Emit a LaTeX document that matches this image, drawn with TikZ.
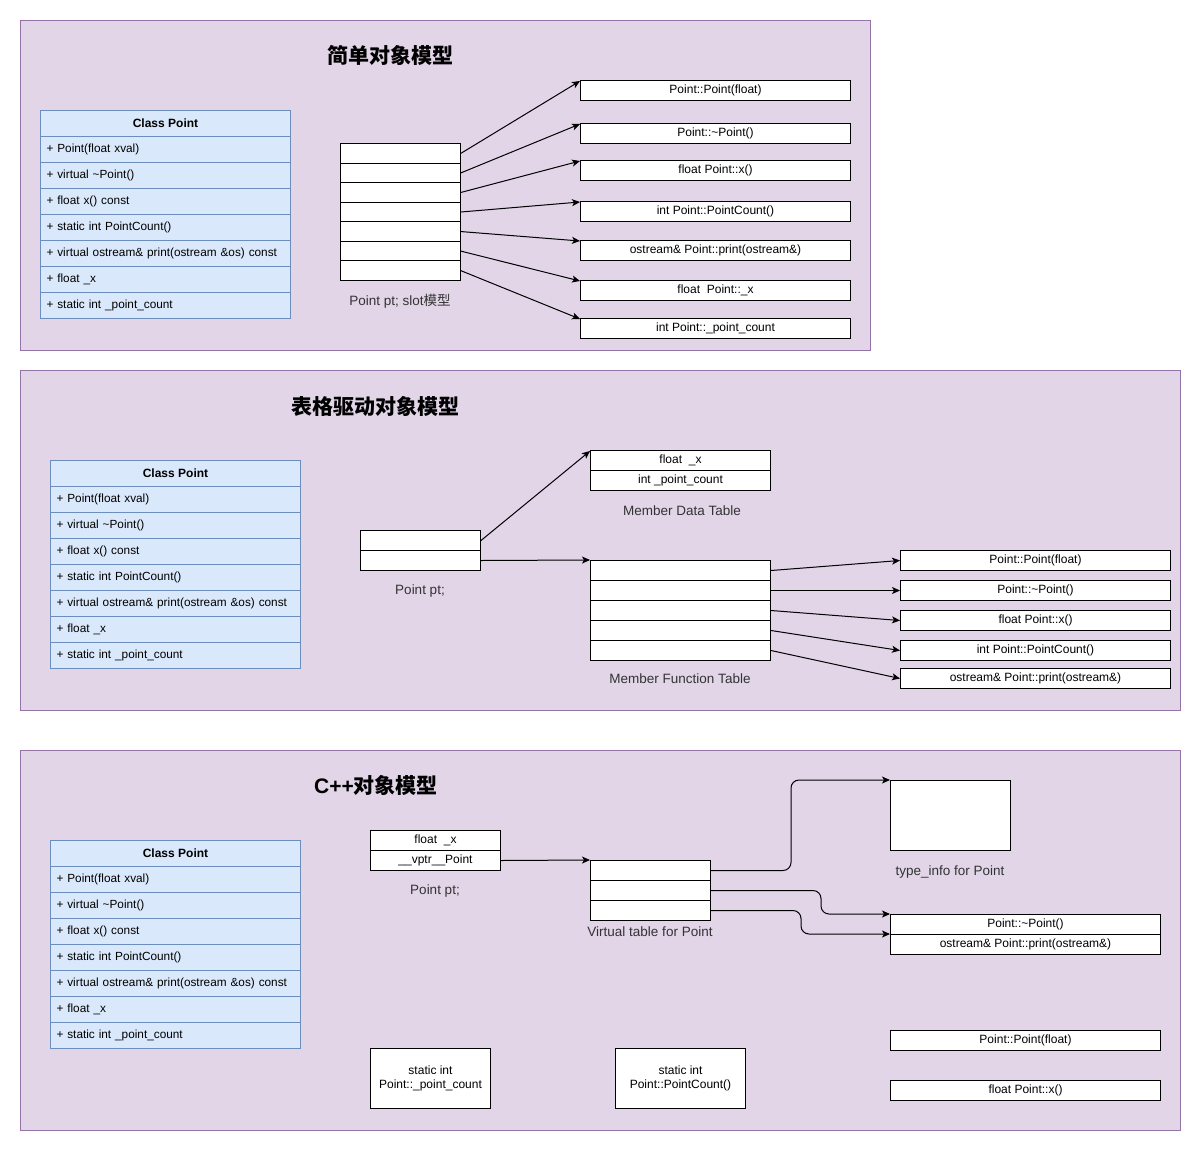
\documentclass[tikz,border=0pt]{standalone}
\usepackage{fontspec}
\setmainfont{Liberation Sans}
\newfontfamily\cjk{Noto Sans CJK SC}
\usetikzlibrary{arrows.meta}
\definecolor{pfill}{HTML}{E1D5E7}
\definecolor{pline}{HTML}{9673A6}
\definecolor{cfill}{HTML}{DAE8FC}
\definecolor{cline}{HTML}{6C8EBF}
\definecolor{txt}{HTML}{333333}
\newcommand{\umlclass}[3]{%
  \node[clshead] (#1h) at (#2,#3) {Class Point};
  \foreach \txt [count=\i] in {+ Point(float xval), + virtual \textasciitilde Point(), + float x() const, + static int PointCount(), + virtual ostream\& print(ostream \&os) const, + float \_x, + static int \_point\_count}
    \node[clsrow] (#1r\i) at (#2,#3+26*\i) {\txt};
}
\begin{document}
\begin{tikzpicture}[x=1pt,y=-1pt,line width=1pt,
  panel/.style={draw=pline,fill=pfill,anchor=north west,inner sep=0pt},
  clshead/.style={draw=cline,fill=cfill,anchor=north west,minimum width=250pt,minimum height=26pt,inner sep=0pt,font=\fontsize{12}{14}\selectfont\bfseries},
  clsrow/.style={draw=cline,fill=cfill,anchor=north west,text width=238pt,inner xsep=6pt,inner ysep=0pt,minimum height=26pt,align=left,font=\fontsize{11.8}{14}\selectfont},
  cell/.style={draw=black,fill=white,anchor=north west,inner sep=0pt,minimum height=20pt,align=center,font=\fontsize{12}{14}\selectfont},
  lbl/.style={font=\fontsize{13.5}{16}\selectfont,text=txt},
  title/.style={font=\fontsize{21}{25}\selectfont\bfseries},
  arr/.style={-{Stealth[length=8pt,width=7pt,inset=2pt]}}]
\useasboundingbox (0,0) rectangle (1201,1151);

% ---------- Panel 1 ----------
\node[panel,minimum width=850pt,minimum height=330pt] (pA) at (20,20) {};
\node[title] (tA) at (390,55) {\cjk\bfseries 简单对象模型};
\umlclass{ca}{40}{110}
\foreach \i in {1,...,7}
  \node[cell,minimum width=120pt,minimum height=19.57pt] (s\i) at (340,143+19.57*\i-19.57) {};
\node[lbl] (lA) at (400,301) {Point pt; slot{\cjk 模型}};
\foreach \yy/\txt [count=\i] in {80/Point::Point(float), 123/Point::\textasciitilde Point(), 160/float Point::x(), 201/int Point::PointCount(), 240/ostream\& Point::print(ostream\&), 280/float~~Point::\_x, 318/int Point::\_point\_count}
  \node[cell,minimum width=270pt] (t\i) at (580,\yy) {\txt};
\foreach \i in {1,...,7}
  \draw[arr] (s\i.east) -- ([yshift=-1pt]t\i.north west);

% ---------- Panel 2 ----------
\node[panel,minimum width=1160pt,minimum height=340pt] (pB) at (20,370) {};
\node[title] (tB) at (375,406) {\cjk\bfseries 表格驱动对象模型};
\umlclass{cb}{50}{460}
\node[cell,minimum width=120pt] (p1) at (360,530) {};
\node[cell,minimum width=120pt] (p2) at (360,550) {};
\node[lbl] (lB1) at (420,591) {Point pt;};
\node[cell,minimum width=180pt] (d1) at (590,450) {float~~\_x};
\node[cell,minimum width=180pt] (d2) at (590,470) {int \_point\_count};
\node[lbl] (lB2) at (682,511) {Member Data Table};
\foreach \i in {1,...,5}
  \node[cell,minimum width=180pt] (f\i) at (590,540+20*\i) {};
\node[lbl] (lB3) at (680,679) {Member Function Table};
\foreach \yy/\txt [count=\i] in {550/Point::Point(float), 580/Point::\textasciitilde Point(), 610/float Point::x(), 640/int Point::PointCount(), 668/ostream\& Point::print(ostream\&)}
  \node[cell,minimum width=270pt] (g\i) at (900,\yy) {\txt};
\draw[arr] (p1.east) -- ([yshift=-1pt]d1.north west);
\draw[arr] (p2.east) -- (f1.north west);
\foreach \i in {1,...,5}
  \draw[arr] (f\i.east) -- (g\i.west);

% ---------- Panel 3 ----------
\node[panel,minimum width=1160pt,minimum height=380pt] (pC) at (20,750) {};
\node[title] (tC) at (376,785) {C++{\cjk\bfseries 对象模型}};
\umlclass{cc}{50}{840}
\node[cell,minimum width=130pt] (q1) at (370,830) {float~~\_x};
\node[cell,minimum width=130pt] (q2) at (370,850) {\_\_vptr\_\_Point};
\node[lbl] (lC1) at (435,891) {Point pt;};
\foreach \i in {1,...,3}
  \node[cell,minimum width=120pt] (v\i) at (590,840+20*\i) {};
\node[lbl] (lC2) at (650,932) {Virtual table for Point};
\node[cell,minimum width=120pt,minimum height=70pt] (ti) at (890,780) {};
\node[lbl] (lC3) at (950,872) {type\_info for Point};
\node[cell,minimum width=270pt] (h1) at (890,914) {Point::\textasciitilde Point()};
\node[cell,minimum width=270pt] (h2) at (890,934) {ostream\& Point::print(ostream\&)};
\node[cell,minimum width=120pt,minimum height=60pt] (st1) at (370,1048) {static int\\Point::\_point\_count};
\node[cell,minimum width=130pt,minimum height=60pt] (st2) at (615,1048) {static int\\Point::PointCount()};
\node[cell,minimum width=270pt] (k1) at (890,1030) {Point::Point(float)};
\node[cell,minimum width=270pt] (k2) at (890,1080) {float Point::x()};
\draw[arr] (q2.east) -- (v1.north west);
\draw[arr,rounded corners=8pt] (v1.east) -- ++(80,0) |- (ti.north west);
\draw[arr,rounded corners=8pt] (v2.east) -- ++(110,0) |- (h1.north west);
\draw[arr,rounded corners=8pt] (v3.east) -- ++(90,0) |- (h2.north west);
\end{tikzpicture}
\end{document}
